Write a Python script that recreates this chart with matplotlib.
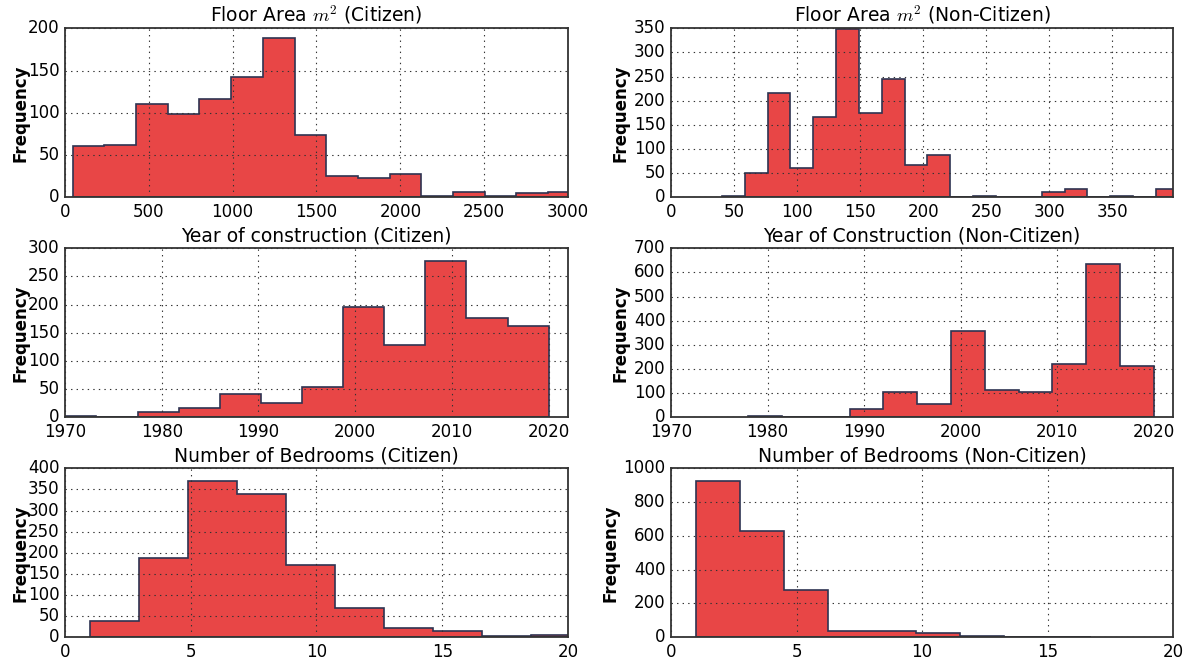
import numpy as np
import matplotlib
matplotlib.use('Agg')
import matplotlib.pyplot as plt
from matplotlib.ticker import ScalarFormatter

plt.style.use('classic')

# bin counts read per histogram, bins are equal-width between lo and hi
floor_cit_counts = [61, 62, 111, 98, 116, 142, 189, 74, 25, 23, 28, 2, 6, 2, 5, 6]
floor_cit_range = (46, 3070)

floor_non_counts = [2, 50, 216, 61, 167, 349, 175, 246, 66, 87,
                    0, 2, 0, 0, 11, 17, 0, 2, 0, 17]
floor_non_range = (40.3, 403)

year_cit_counts = [2, 0, 10, 16, 42, 25, 53, 196, 129, 277, 176, 162]
year_cit_range = (1969, 2020)

year_non_counts = [6, 3, 2, 36, 104, 55, 356, 112, 104, 219, 634, 212]
year_non_range = (1978, 2020)

bed_cit_counts = [38, 187, 369, 338, 170, 70, 22, 14, 2, 5]
bed_cit_range = (1, 20.49)

bed_non_counts = [925, 628, 279, 35, 40, 24, 6, 2, 2]
bed_non_range = (1, 16.75)

titles = ['Floor Area $m^2$ (Citizen)', 'Floor Area $m^2$ (Non-Citizen)',
          'Year of construction (Citizen)', 'Year of Construction (Non-Citizen)',
          'Number of Bedrooms (Citizen)', 'Number of Bedrooms (Non-Citizen)']

fill_color = '#e84646'
edge_color = '#2e3352'

fig = plt.figure(figsize=(11.86, 6.63), dpi=100, facecolor='white')

col_x = [0.0548, 0.5658]
col_w = [0.4241, 0.4233]
col_pad = [-1, 3]
row_y = [0.7024, 0.3706, 0.0388]
row_h = 0.2549

panels = [
    (floor_cit_counts, floor_cit_range, (0, 3000), (0, 200), np.arange(0, 3001, 500), np.arange(0, 201, 50)),
    (floor_non_counts, floor_non_range, (0, 398.4), (0, 350), np.arange(0, 351, 50), np.arange(0, 351, 50)),
    (year_cit_counts, year_cit_range, (1970, 2022), (0, 300), np.arange(1970, 2021, 10), np.arange(0, 301, 50)),
    (year_non_counts, year_non_range, (1970, 2022), (0, 700), np.arange(1970, 2021, 10), np.arange(0, 701, 100)),
    (bed_cit_counts, bed_cit_range, (0, 20), (0, 400), np.arange(0, 21, 5), np.arange(0, 401, 50)),
    (bed_non_counts, bed_non_range, (0, 20), (0, 1000), np.arange(0, 21, 5), np.arange(0, 1001, 200)),
]

for i, (counts, rng, xlim, ylim, xt, yt) in enumerate(panels):
    r, c = divmod(i, 2)
    ax = fig.add_axes([col_x[c], row_y[r], col_w[c], row_h])
    edges = np.linspace(rng[0], rng[1], len(counts) + 1)
    ax.hist(edges[:-1], bins=edges, weights=counts, histtype='stepfilled',
            facecolor=fill_color, edgecolor=edge_color, linewidth=1.2)
    ax.set_xlim(xlim)
    ax.set_ylim(ylim)
    ax.set_xticks(xt)
    ax.set_yticks(yt)
    fmt = ScalarFormatter(useOffset=False)
    ax.xaxis.set_major_formatter(fmt)
    ax.grid(True, linestyle=':', color='0.2', linewidth=0.8)
    ax.tick_params(length=0, labelsize=12)
    for sp in ax.spines.values():
        sp.set_color('0.2')
        sp.set_linewidth(1.3)
    ax.set_title(titles[i], fontsize=13.5, y=1.0)
    ax.set_ylabel('Frequency', fontsize=12, fontweight='bold', labelpad=col_pad[c])

fig.savefig('out.png', dpi=100, facecolor='white')
